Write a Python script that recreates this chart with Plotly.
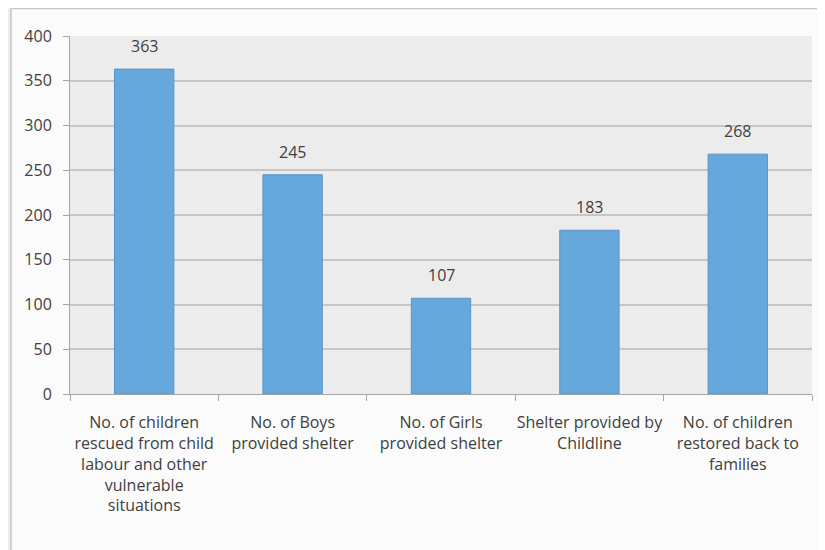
import plotly.graph_objects as go

categories = [
    "No. of children<br>rescued from child<br>labour and other<br>vulnerable<br>situations",
    "No. of Boys<br>provided shelter",
    "No. of Girls<br>provided shelter",
    "Shelter provided by<br>Childline",
    "No. of children<br>restored back to<br>families",
]
values = [363, 245, 107, 183, 268]
y_ticks = [0, 50, 100, 150, 200, 250, 300, 350, 400]

# page has an 8px body margin, so figure coords = screen coords - 8
W, H = 817, 542
L, R, T, B = 62, 13, 28, 156
pw, ph = W - L - R, H - T - B

def px_x(p):
    return (p - L) / pw

def px_y(p):
    return (H - B - p) / ph

fig = go.Figure()
fig.add_trace(go.Bar(
    x=categories, y=values,
    marker=dict(color="#66a8dc", line=dict(color="#5a95c8", width=1)),
    showlegend=False,
))
for c, v in zip(categories, values):
    fig.add_annotation(x=c, y=v, text=str(v), showarrow=False,
                       yanchor="middle", yshift=23,
                       font=dict(family="Open Sans", size=16, color="#404040"))

# outer frame
fig.add_shape(type="rect", xref="paper", yref="paper",
              x0=px_x(-5), x1=px_x(3), y0=px_y(-5), y1=px_y(H + 5),
              fillcolor="#eeeeee", line=dict(width=0), layer="below")
fig.add_shape(type="line", xref="paper", yref="paper",
              x0=px_x(3), x1=px_x(3), y0=px_y(0), y1=px_y(H + 5),
              line=dict(color="#c4c4c4", width=1.5), layer="below")
fig.add_shape(type="line", xref="paper", yref="paper",
              x0=px_x(3), x1=px_x(W + 5), y0=px_y(0.5), y1=px_y(0.5),
              line=dict(color="#c4c4c4", width=1.5), layer="below")

fig.update_layout(
    width=W, height=H,
    margin=dict(l=L, r=R, t=T, b=B, autoexpand=False),
    paper_bgcolor="#fbfbfb",
    plot_bgcolor="#ececec",
    bargap=0.6,
    showlegend=False,
    font=dict(family="Open Sans", size=16, color="#404040"),
)
fig.update_xaxes(
    showline=True, linecolor="#a6a6a6", linewidth=1,
    ticks="outside", tickson="boundaries", ticklen=6, tickcolor="#a6a6a6",
    tickfont=dict(size=16, color="#404040"), tickangle=0,
    ticklabelstandoff=14,
    showgrid=False,
)
fig.update_yaxes(
    range=[0, 400], tickvals=y_ticks,
    showline=True, linecolor="#a6a6a6", linewidth=1,
    ticks="outside", ticklen=6, tickcolor="#a6a6a6",
    gridcolor="#c6c6c6", gridwidth=1.5,
    tickfont=dict(size=16, color="#404040"),
    ticklabelstandoff=8,
    zeroline=False,
)
fig.write_html("out.html")
